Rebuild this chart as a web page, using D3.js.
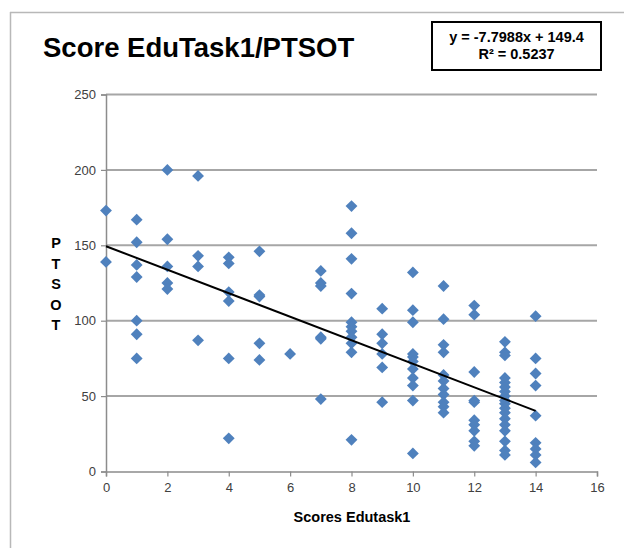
<!DOCTYPE html>
<html><head><meta charset="utf-8">
<script src="https://cdn.jsdelivr.net/npm/d3@7"></script>
<style>html,body{margin:0;padding:0;background:#fff;}svg{display:block;font-family:"Liberation Sans",Arial,sans-serif;}</style>
</head><body><svg id="c" width="624" height="548"></svg>
<script>
// Data: scores (x) grouped with PTSOT values (y)
const xGroups = [0,1,2,3,4,5,6,7,8,9,10,11,12,13,14];
const yGroups = [
  [173,139],
  [167,152,137,129,100,91,75],
  [200,154,136,125,121],
  [196,143,136,87],
  [142,138,119,113,75,22],
  [146,117,116,85,74],
  [78],
  [133,125,123,89,88,48],
  [176,158,141,118,99,96,93,89,85,79,21],
  [108,91,85,78,69,46],
  [132,107,99,78,76,73,68,62,57,47,12],
  [123,101,84,79,64,60,55,51,46,43,39],
  [110,104,66,47,46,34,31,27,20,17],
  [86,79,77,62,59,56,53,50,47,45,42,39,35,31,27,20,14,11],
  [103,75,65,57,37,19,15,11,6]
];
const xTicks = [0,2,4,6,8,10,12,14,16];
const yTicks = [0,50,100,150,200,250];
const slope = -7.7988, intercept = 149.4, r2 = "0.5237";
const trendX = [0,14];
const title = "Score EduTask1/PTSOT";
const xTitle = "Scores Edutask1";
const yTitleLetters = ["P","T","S","O","T"];

const points = [];
xGroups.forEach((x,i)=>yGroups[i].forEach(y=>points.push({x,y})));

const svg = d3.select("#c");
const x = d3.scaleLinear().domain([0,16]).range([106,597]);
const y = d3.scaleLinear().domain([0,250]).range([471.5,94.5]);

// outer frame lines
svg.append("line").attr("x1",10).attr("x2",624).attr("y1",12.5).attr("y2",12.5).attr("stroke","#b8b8b8").attr("stroke-width",1.5);
svg.append("line").attr("x1",10.5).attr("x2",10.5).attr("y1",12).attr("y2",548).attr("stroke","#b8b8b8").attr("stroke-width",1.5);

// gridlines
svg.append("g").selectAll("line").data(yTicks.filter(d=>d>0)).join("line")
  .attr("x1",x(0)).attr("x2",x(16)).attr("y1",d=>y(d)).attr("y2",d=>y(d))
  .attr("stroke","#a6a6a6").attr("stroke-width",2);

// axes
const yAxis = svg.append("g").attr("transform",`translate(${x(0)},0)`)
  .call(d3.axisLeft(y).tickValues(yTicks).tickSize(5).tickPadding(5));
const xAxis = svg.append("g").attr("transform",`translate(0,${y(0)})`)
  .call(d3.axisBottom(x).tickValues(xTicks).tickSize(5).tickPadding(6));
[xAxis,yAxis].forEach(g=>{
  g.select(".domain").attr("stroke","#8c8c8c").attr("stroke-width",1.5);
  g.selectAll(".tick line").attr("stroke","#8c8c8c").attr("stroke-width",1.2);
  g.selectAll("text").attr("fill","#404040").attr("font-size",13).attr("font-family","Liberation Sans, Arial, sans-serif");
});

// points (diamonds)
svg.append("g").selectAll("path").data(points).join("path")
  .attr("d", d3.symbol(d3.symbolSquare, 70)())
  .attr("transform", d=>`translate(${x(d.x)},${y(d.y)}) rotate(45)`)
  .attr("fill","#4f81bd");

// trendline
svg.append("line")
  .attr("x1",x(trendX[0])).attr("y1",y(slope*trendX[0]+intercept))
  .attr("x2",x(trendX[1])).attr("y2",y(slope*trendX[1]+intercept))
  .attr("stroke","#000").attr("stroke-width",2);

// title
svg.append("text").attr("x",43).attr("y",57).attr("font-size",27.5).attr("font-weight","bold").attr("fill","#000").text(title);

// equation box
svg.append("rect").attr("x",432).attr("y",22).attr("width",169).attr("height",48).attr("fill","#fff").attr("stroke","#000").attr("stroke-width",2);
svg.append("text").attr("x",516.5).attr("y",42).attr("text-anchor","middle").attr("font-size",14.5).attr("font-weight","bold")
  .text(`y = ${slope}x + ${intercept}`);
svg.append("text").attr("x",516.5).attr("y",59).attr("text-anchor","middle").attr("font-size",14.5).attr("font-weight","bold")
  .text(`R² = ${r2}`);

// axis titles
svg.append("text").attr("x",352).attr("y",522).attr("text-anchor","middle").attr("font-size",14.5).attr("font-weight","bold").text(xTitle);
svg.append("g").selectAll("text").data(yTitleLetters).join("text")
  .attr("x",56).attr("y",(d,i)=>248+i*20.5).attr("text-anchor","middle")
  .attr("font-size",14.5).attr("font-weight","bold").text(d=>d);
</script></body></html>
